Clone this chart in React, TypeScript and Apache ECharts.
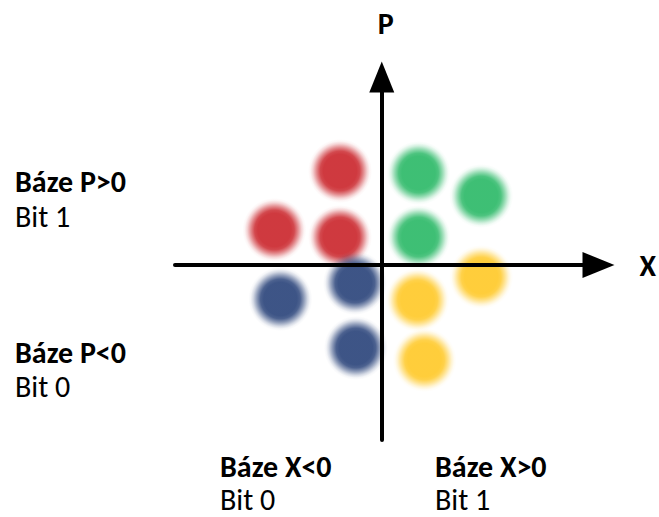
import React, { useEffect, useRef } from "react";
import * as echarts from "echarts";

// Constellation points (X, P) per group
const redPoints = [[-0.42, 0.94], [-1.08, 0.35], [-0.42, 0.28]];
const greenPoints = [[0.37, 0.92], [1.0, 0.69], [0.37, 0.28]];
const bluePoints = [[-1.02, -0.34], [-0.27, -0.18], [-0.26, -0.83]];
const yellowPoints = [[1.0, -0.12], [0.36, -0.35], [0.43, -0.95]];

const groupColors = ["#C3080F", "#0EAF52", "#0D2A68", "#FFC10A"];
const groupNames = ["red", "green", "blue", "yellow"];

const axisNames = { x: "X", y: "P" };
const xRange = [-2.08, 2.18];
const yRange = [-1.75, 1.88];

const sideLabels = [
  { title: "Báze P>0", bit: "Bit 1" },
  { title: "Báze P<0", bit: "Bit 0" },
  { title: "Báze X<0", bit: "Bit 0" },
  { title: "Báze X>0", bit: "Bit 1" },
];

const FONT = "Carlito, Lato, 'Noto Sans', sans-serif";

function hexA(hex: string, a: number) {
  const r = parseInt(hex.slice(1, 3), 16);
  const g = parseInt(hex.slice(3, 5), 16);
  const b = parseInt(hex.slice(5, 7), 16);
  return `rgba(${r},${g},${b},${a})`;
}

function blurFill(hex: string) {
  return {
    type: "radial",
    x: 0.5,
    y: 0.5,
    r: 0.5,
    colorStops: [
      { offset: 0, color: hexA(hex, 1) },
      { offset: 0.52, color: hexA(hex, 1) },
      { offset: 0.62, color: hexA(hex, 0.92) },
      { offset: 0.73, color: hexA(hex, 0.6) },
      { offset: 0.85, color: hexA(hex, 0.22) },
      { offset: 0.93, color: hexA(hex, 0.05) },
      { offset: 1, color: hexA(hex, 0) },
    ],
  };
}

export default function App() {
  const ref = useRef<HTMLDivElement>(null);
  useEffect(() => {
    if (!ref.current) return;
    const chart = echarts.init(ref.current, null, { renderer: "svg" });
    const groups = [redPoints, greenPoints, bluePoints, yellowPoints];
    const labelPos = [
      { x: 15, y1: 181, y2: 216 },
      { x: 15, y1: 352, y2: 386 },
      { x: 220, y1: 466, y2: 499.5 },
      { x: 435, y1: 466, y2: 499.5 },
    ];
    const graphics: any[] = [];
    sideLabels.forEach((l, i) => {
      const p = labelPos[i];
      graphics.push({
        type: "text",
        x: p.x,
        y: p.y1,
        style: {
          text: l.title,
          fill: "#000",
          fontFamily: FONT,
          fontWeight: "bold",
          fontSize: 30,
          lineHeight: 26,
          verticalAlign: "middle",
          align: "left",
        },
      });
      graphics.push({
        type: "text",
        x: p.x,
        y: p.y2,
        style: {
          text: l.bit,
          fill: "#000",
          fontFamily: FONT,
          fontWeight: "normal",
          fontSize: 30,
          lineHeight: 26,
          verticalAlign: "middle",
          align: "left",
        },
      });
    });
    chart.setOption({
      animation: false,
      backgroundColor: "#fff",
      grid: { left: 175, top: 77, width: 426, height: 363, containLabel: false },
      xAxis: {
        type: "value",
        min: xRange[0],
        max: xRange[1],
        name: axisNames.x,
        nameLocation: "end",
        nameGap: 41,
        nameTextStyle: { fontFamily: FONT, fontWeight: "bold", fontSize: 30, color: "#000", verticalAlign: "middle" },
        z: 5,
        axisLine: {
          show: true,
          onZero: true,
          symbol: ["none", "triangle"],
          symbolSize: [26, 32],
          lineStyle: { color: "#000", width: 4 },
        },
        axisTick: { show: false },
        axisLabel: { show: false },
        splitLine: { show: false },
      },
      yAxis: {
        type: "value",
        min: yRange[0],
        max: yRange[1],
        name: axisNames.y,
        nameLocation: "end",
        nameGap: 40,
        nameTextStyle: { fontFamily: FONT, fontWeight: "bold", fontSize: 30, color: "#000", padding: [0, 0, 0, 8], lineHeight: 28 },
        z: 5,
        axisLine: {
          show: true,
          onZero: true,
          symbol: ["none", "triangle"],
          symbolSize: [25, 31],
          lineStyle: { color: "#000", width: 4 },
        },
        axisTick: { show: false },
        axisLabel: { show: false },
        splitLine: { show: false },
      },
      graphic: graphics,
      series: groups.map((pts, i) => ({
        type: "scatter",
        name: groupNames[i],
        data: pts,
        symbol: "circle",
        symbolSize: 64,
        z: 2,
        itemStyle: { color: blurFill(groupColors[i]) },
        emphasis: { disabled: true },
      })),
    });
    return () => chart.dispose();
  }, []);
  return (
    <div
      ref={ref}
      style={{ position: "absolute", left: 0, top: 0, width: 659, height: 517 }}
    />
  );
}
